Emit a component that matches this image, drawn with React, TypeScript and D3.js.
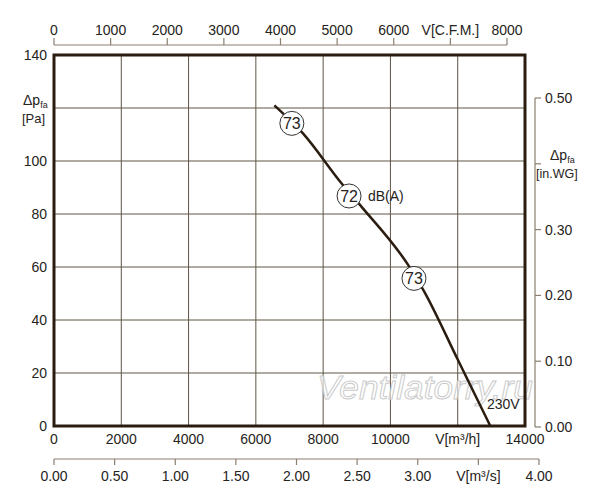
import React from "react";
import * as d3 from "d3";

// Curve: flow [m3/h] vs static pressure [Pa]
const flowM3h = [6550, 7400, 8550, 9150, 10530, 10980, 12000, 12970];
const pressurePa = [121, 110.4, 91.5, 82.6, 60.7, 51.3, 25.1, 0];

// Noise markers along the curve
const noiseFlow = [7070, 8770, 10700];
const noisePa = [114.2, 86.8, 55.7];
const noiseDb = ["73", "72", "73"];

// Axis ticks
const m3hTicks = [0, 2000, 4000, 6000, 8000, 10000, 12000, 14000];
const m3hLabels = ["0", "2000", "4000", "6000", "8000", "10000", "V[m³/h]", "14000"];
const paTicks = [0, 20, 40, 60, 80, 100, 120, 140];
const paLabels = ["0", "20", "40", "60", "80", "100", "", "140"];
const cfmTicks = [0, 1000, 2000, 3000, 4000, 5000, 6000, 7000, 8000];
const cfmLabels = ["0", "1000", "2000", "3000", "4000", "5000", "6000", "V[C.F.M.]", "8000"];
const m3sTicks = [0, 0.5, 1, 1.5, 2, 2.5, 3, 3.5, 4];
const m3sLabels = ["0.00", "0.50", "1.00", "1.50", "2.00", "2.50", "3.00", "V[m³/s]", "4.00"];
const inwgTicks = [0, 0.1, 0.2, 0.3, 0.4, 0.5];
const inwgLabels = ["0.00", "0.10", "0.20", "0.30", "", "0.50"];

const FONT = "'Liberation Sans', Arial, Helvetica, sans-serif";
const TEXT = "#262320";
const FRAME = "#2a1d10";
const GRID = "#5e5445";
const AXIS2 = "#8a7f70";

export default function App() {
  const L = 54, R = 525, T = 55, B = 426;
  const x = d3.scaleLinear().domain([0, 14000]).range([L, R]);
  const y = d3.scaleLinear().domain([0, 140]).range([B, T]);
  const xCfm = d3.scaleLinear().domain([0, 8000]).range([L, 507]);
  const xM3s = d3.scaleLinear().domain([0, 4]).range([L, 539]);
  const yWg = d3.scaleLinear().domain([0, 0.5]).range([427, 98]);

  const pts: [number, number][] = flowM3h.map((f, i) => [f, pressurePa[i]]);
  const line = d3
    .line<[number, number]>()
    .x((d) => x(d[0]))
    .y((d) => y(d[1]))
    .curve(d3.curveMonotoneX);

  const topY = 45;
  const botY = 459;
  const rightX = 535;

  return (
    <svg
      width={600}
      height={500}
      style={{ position: "absolute", left: 0, top: 0, background: "#fff" }}
      fontFamily={FONT}
    >
      <rect x={0} y={0} width={600} height={500} fill="#fff" />

      {/* grid */}
      {m3hTicks.slice(1, -1).map((t) => (
        <line key={"gx" + t} x1={x(t)} x2={x(t)} y1={T} y2={B} stroke={GRID} strokeWidth={1} />
      ))}
      {paTicks.slice(1, -1).map((t) => (
        <line key={"gy" + t} x1={L} x2={R} y1={y(t)} y2={y(t)} stroke={GRID} strokeWidth={1} />
      ))}

      {/* watermark */}
      <text
        x={317}
        y={399}
        fontSize={34}
        fontStyle="italic"
        fill="#ffffff"
        fillOpacity={0.6}
        stroke="#cccccc"
        strokeWidth={1}
        textLength={216}
        lengthAdjust="spacingAndGlyphs"
      >
        Ventilatorry.ru
      </text>

      {/* frame */}
      <rect x={L} y={T} width={R - L} height={B - T} fill="none" stroke={FRAME} strokeWidth={3} />

      {/* curve */}
      <path d={line(pts) || ""} fill="none" stroke={FRAME} strokeWidth={2.5} />

      {/* noise markers */}
      {noiseFlow.map((f, i) => (
        <g key={"n" + i}>
          <circle cx={x(f)} cy={y(noisePa[i])} r={12} fill="#fff" stroke="#333" strokeWidth={1} />
          <text
            x={x(f)}
            y={y(noisePa[i]) + 6}
            textAnchor="middle"
            fontSize={16}
            fill={TEXT}
          >
            {noiseDb[i]}
          </text>
        </g>
      ))}
      <text x={368} y={201} fontSize={14} fill={TEXT}>dB(A)</text>
      <text x={487} y={409} fontSize={14} fill={TEXT}>230V</text>

      {/* bottom m3/h labels */}
      {m3hTicks.map((t, i) => (
        <text key={"bl" + t} x={x(t)} y={444} textAnchor="middle" fontSize={14} fill={TEXT}>
          {m3hLabels[i]}
        </text>
      ))}

      {/* left Pa labels */}
      {paTicks.map((t, i) =>
        paLabels[i] ? (
          <text key={"ll" + t} x={47} y={y(t) + 5} textAnchor="end" fontSize={14} fill={TEXT}>
            {paLabels[i]}
          </text>
        ) : null
      )}
      <text x={23} y={105} fontSize={14} fill={TEXT}>
        Δp<tspan fontSize={9} dy={3}>fa</tspan>
      </text>
      <text x={22} y={123} fontSize={13} fill={TEXT}>[Pa]</text>

      {/* top CFM axis */}
      <line x1={xCfm(0)} x2={xCfm(8000)} y1={topY} y2={topY} stroke={AXIS2} strokeWidth={1.2} />
      {cfmTicks.map((t, i) => (
        <g key={"ct" + t}>
          <line x1={xCfm(t)} x2={xCfm(t)} y1={topY} y2={topY - 7} stroke={AXIS2} strokeWidth={1.2} />
          <text x={xCfm(t)} y={35} textAnchor="middle" fontSize={14} fill={TEXT}>
            {cfmLabels[i]}
          </text>
        </g>
      ))}

      {/* bottom m3/s axis */}
      <line x1={xM3s(0)} x2={xM3s(4)} y1={botY} y2={botY} stroke={AXIS2} strokeWidth={1.2} />
      {m3sTicks.map((t, i) => (
        <g key={"st" + t}>
          <line x1={xM3s(t)} x2={xM3s(t)} y1={botY} y2={botY + 6} stroke={AXIS2} strokeWidth={1.2} />
          <text x={xM3s(t)} y={481} textAnchor="middle" fontSize={14} fill={TEXT}>
            {m3sLabels[i]}
          </text>
        </g>
      ))}

      {/* right in.WG axis */}
      <line x1={rightX} x2={rightX} y1={yWg(0.5)} y2={yWg(0)} stroke={AXIS2} strokeWidth={1.2} />
      {inwgTicks.map((t, i) => (
        <g key={"wt" + t}>
          <line x1={rightX} x2={rightX + 6} y1={yWg(t)} y2={yWg(t)} stroke={AXIS2} strokeWidth={1.2} />
          {inwgLabels[i] ? (
            <text x={545} y={yWg(t) + 5} fontSize={14} fill={TEXT}>
              {inwgLabels[i]}
            </text>
          ) : null}
        </g>
      ))}
      <text x={550} y={160} fontSize={14} fill={TEXT}>
        Δp<tspan fontSize={9} dy={3}>fa</tspan>
      </text>
      <text x={536} y={178} fontSize={12.5} fill={TEXT}>[in.WG]</text>
    </svg>
  );
}
